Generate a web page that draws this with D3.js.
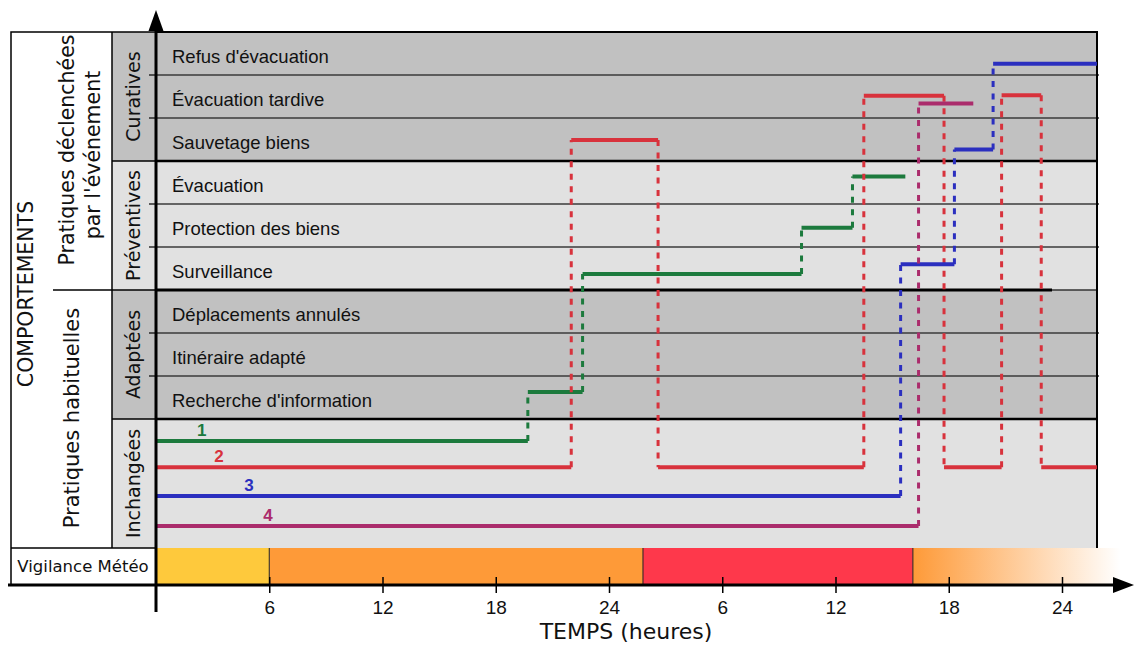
<!doctype html>
<html>
<head>
<meta charset="utf-8">
<style>
  body { margin: 0; background: #fff; }
  .rowlab { font-family: "Liberation Sans", Arial, Helvetica, sans-serif; font-size: 18.5px; fill: #111; }
  .leftlab { font-family: "DejaVu Sans", Verdana, sans-serif; fill: #111; }
  .xaxis text { font-family: "Liberation Sans", Arial, sans-serif; font-size: 19px; fill: #111; }
</style>
<script src="https://d3js.org/d3.v7.min.js"></script>
</head>
<body>
<svg width="1134" height="646"></svg>
<script>
// ---- data ----
var rowNames = ["Recherche d'information", "Itinéraire adapté", "Déplacements annulés",
                "Surveillance", "Protection des biens", "Évacuation",
                "Sauvetage biens", "Évacuation tardive", "Refus d'évacuation"];
var groupNames = ["Inchangées", "Adaptées", "Préventives", "Curatives"];
var tickHours = [6, 12, 18, 24, 30, 36, 42, 48];
var tickLabels = ["6", "12", "18", "24", "6", "12", "18", "24"];

// scenario step lines: change times (hours) and levels (rows from bottom)
var times1 = [0, 19.7, 22.6, 34.2, 36.9, 39.7];
var levels1 = [2.49, 3.63, 6.37, 7.45, 8.64];
var times2 = [0, 22.0, 26.6, 37.5, 41.75, 44.8, 46.9, 49.85];
var levels2 = [1.88, 9.49, 1.88, 10.52, 1.88, 10.53, 1.88];
var times3 = [0, 39.45, 42.3, 44.35, 49.85];
var levels3 = [1.21, 6.6, 9.27, 11.26];
var times4 = [0, 40.4, 43.3];
var levels4 = [0.51, 10.34];
var scenarioNames = ["1", "2", "3", "4"];
var labelHours = [2.42, 3.34, 4.93, 5.93];

// vigilance météo periods (hours)
var vigilanceStarts = [0, 6.0, 25.8, 40.1];
var vigilanceEnds = [6.0, 25.8, 40.1, 51.1];

// ---- drawing ----
var colors = ["#1c7a3d", "#d8323c", "#2b2fbf", "#ab2c6c"];
var vigColors = ["#fec93c", "#fe9a38", "#fe384b", "grad"];

var svg = d3.select("svg");
var x = d3.scaleLinear().domain([0, 48]).range([156, 1062]);
var y = d3.scaleLinear().domain([0, 12]).range([548, 32]);
var right = 1097, axisY = 585;

// group backgrounds
groupNames.forEach(function(g, i) {
    var fill = (i % 2 == 0) ? "#e1e1e1" : "#c1c1c1";
    svg.append("rect").attr("x", 156).attr("y", y(i * 3 + 3))
       .attr("width", right - 156).attr("height", y(i * 3) - y(i * 3 + 3)).attr("fill", fill);
    svg.append("rect").attr("x", 112).attr("y", y(i * 3 + 3))
       .attr("width", 44).attr("height", y(i * 3) - y(i * 3 + 3)).attr("fill", fill);
});

// row lines (the "Inchangées" block is one single cell)
for (var k = 3; k < 12; k++) {
    var thick = (k % 3 == 0);
    if (k == 6) {
        svg.append("line").attr("x1", 156).attr("x2", 1052).attr("y1", y(k)).attr("y2", y(k))
           .attr("stroke", "#000").attr("stroke-width", 3);
        svg.append("line").attr("x1", 1052).attr("x2", right).attr("y1", y(k)).attr("y2", y(k))
           .attr("stroke", "#333").attr("stroke-width", 1.5);
    } else {
        svg.append("line").attr("x1", 156).attr("x2", thick ? right : right + 2)
           .attr("y1", y(k)).attr("y2", y(k))
           .attr("stroke", thick ? "#000" : "#3a3a3a").attr("stroke-width", thick ? 2.5 : 1.5);
    }
    if (thick) {
        svg.append("line").attr("x1", 112).attr("x2", 156).attr("y1", y(k)).attr("y2", y(k))
           .attr("stroke", "#000").attr("stroke-width", 1.5);
    } else {
        svg.append("line").attr("x1", 149).attr("x2", 156).attr("y1", y(k)).attr("y2", y(k))
           .attr("stroke", "#000").attr("stroke-width", 1.2);
    }
}

// plot frame top / right
svg.append("line").attr("x1", 156).attr("x2", right + 1).attr("y1", 32).attr("y2", 32)
   .attr("stroke", "#000").attr("stroke-width", 2);
svg.append("line").attr("x1", right).attr("x2", right).attr("y1", 32).attr("y2", 548)
   .attr("stroke", "#000").attr("stroke-width", 2);

// row labels
svg.selectAll(".rowlab").data(rowNames).enter().append("text")
   .attr("class", "rowlab")
   .attr("x", 172)
   .attr("y", function(d, i) { return y(i + 3.5) + 9; })
   .text(function(d) { return d; });

// vigilance bar
var defs = svg.append("defs");
var grad = defs.append("linearGradient").attr("id", "fade");
grad.append("stop").attr("offset", "0%").attr("stop-color", "#fe9a38");
grad.append("stop").attr("offset", "100%").attr("stop-color", "#ffffff");
vigilanceStarts.forEach(function(s, i) {
    svg.append("rect").attr("x", x(s)).attr("y", 548)
       .attr("width", x(vigilanceEnds[i]) - x(s)).attr("height", axisY - 548)
       .attr("fill", vigColors[i] == "grad" ? "url(#fade)" : vigColors[i]);
    if (i > 0) {
        svg.append("line").attr("x1", x(s)).attr("x2", x(s)).attr("y1", 548).attr("y2", axisY)
           .attr("stroke", "#222").attr("stroke-width", 1);
    }
});

// left panel
var lp = svg.append("g").attr("fill", "none").attr("stroke", "#000").attr("stroke-width", 1.5);
lp.append("rect").attr("x", 11).attr("y", 32).attr("width", 145).attr("height", axisY - 32);
lp.append("line").attr("x1", 11).attr("x2", 156).attr("y1", 548).attr("y2", 548);
lp.append("line").attr("x1", 112).attr("x2", 112).attr("y1", 32).attr("y2", 548);
lp.append("line").attr("x1", 53).attr("x2", 112).attr("y1", 290).attr("y2", 290);

function vtext(tx, ty, size, str) {
    svg.append("text").attr("class", "leftlab")
       .attr("transform", "translate(" + tx + "," + ty + ") rotate(-90)")
       .attr("text-anchor", "middle").attr("font-size", size + "px").text(str);
}
vtext(33, 294, 20.5, "COMPORTEMENTS");
vtext(74, 150, 20.5, "Pratiques déclenchées");
vtext(100, 155, 20.5, "par l'événement");
vtext(79, 418, 21, "Pratiques habituelles");
groupNames.forEach(function(g, i) {
    vtext(140, y(i * 3 + 1.5), 19, g);
});
svg.append("text").attr("class", "leftlab").attr("x", 83).attr("y", 572)
   .attr("text-anchor", "middle").attr("font-size", "16.5px").text("Vigilance Météo");

// scenario lines
var allTimes = [times1, times2, times3, times4];
var allLevels = [levels1, levels2, levels3, levels4];
allTimes.forEach(function(ts, s) {
    var lv = allLevels[s];
    var g = svg.append("g");
    for (var i = 0; i < lv.length; i++) {
        g.append("line").attr("x1", x(ts[i])).attr("x2", x(ts[i + 1]))
         .attr("y1", y(lv[i])).attr("y2", y(lv[i]))
         .attr("stroke", colors[s]).attr("stroke-width", 4);
        if (i + 1 < lv.length) {
            g.append("line").attr("x1", x(ts[i + 1])).attr("x2", x(ts[i + 1]))
             .attr("y1", y(lv[i])).attr("y2", y(lv[i + 1]))
             .attr("stroke", colors[s]).attr("stroke-width", 3)
             .attr("stroke-dasharray", "6,6.5");
        }
    }
    svg.append("text").attr("x", x(labelHours[s])).attr("y", y(lv[0]) - 5)
       .attr("text-anchor", "middle").attr("fill", colors[s])
       .attr("font-family", "Liberation Sans, Arial, sans-serif")
       .attr("font-weight", "bold").attr("font-size", "17px")
       .text(scenarioNames[s]);
});

// x axis
var xAxis = d3.axisBottom(x).tickValues(tickHours).tickSize(8)
    .tickFormat(function(d, i) { return tickLabels[i]; });
var ax = svg.append("g").attr("class", "xaxis")
    .attr("transform", "translate(0," + axisY + ")").call(xAxis);
ax.attr("font-size", 19).attr("font-family", "Liberation Sans, Arial, sans-serif");
ax.select(".domain").remove();
ax.selectAll(".tick line").attr("y1", -8).attr("y2", 8).attr("stroke", "#000").attr("stroke-width", 1.5);
ax.selectAll(".tick text").attr("y", 29).attr("dy", 0).attr("font-size", 19);

svg.append("line").attr("x1", 8).attr("x2", 1116).attr("y1", axisY).attr("y2", axisY)
   .attr("stroke", "#000").attr("stroke-width", 3);
svg.append("path").attr("d", "M1134," + axisY + " L1113," + (axisY - 8) + " L1113," + (axisY + 8) + " Z")
   .attr("fill", "#000");
svg.append("line").attr("x1", 156).attr("x2", 156).attr("y1", 612).attr("y2", 28)
   .attr("stroke", "#000").attr("stroke-width", 3);
svg.append("path").attr("d", "M156,10 L148.5,31 L163.5,31 Z").attr("fill", "#000");

svg.append("text").attr("class", "leftlab").attr("x", 626).attr("y", 639)
   .attr("text-anchor", "middle").attr("font-size", "22px").text("TEMPS (heures)");
</script>
</body>
</html>
